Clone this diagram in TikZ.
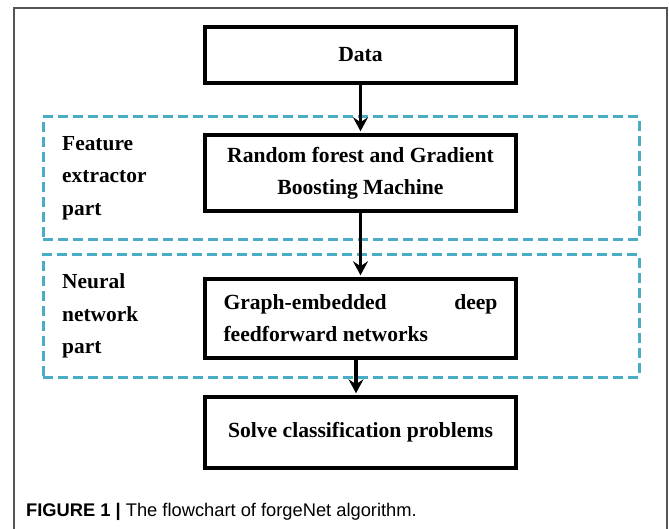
\documentclass[tikz,border=0pt]{standalone}
\usepackage{fontspec}
\setmainfont{Liberation Serif}
\newfontfamily\capsans{Liberation Sans}
\usetikzlibrary{arrows.meta}
\definecolor{groupblue}{HTML}{4BACC6}
\definecolor{framegray}{HTML}{555555}

\begin{document}
\begin{tikzpicture}[x=1pt,y=-1pt,
  stepbox/.style={draw=black, line width=3.5pt, minimum width=311pt, inner sep=0pt,
    font=\bfseries\fontsize{21.6}{32}\selectfont},
  groupbox/.style={draw=groupblue, line width=3pt, dash pattern=on 10pt off 5pt,
    minimum width=596pt, inner sep=0pt},
  flow/.style={line width=3.5pt, shorten >=2pt,
    -{Stealth[length=14pt,width=15pt,inset=5pt]}},
  sidelabel/.style={anchor=west, align=left, inner sep=0pt,
    font=\bfseries\fontsize{21.4}{32.5}\selectfont}]

\useasboundingbox (0,0) rectangle (669,529);

% page frame, open at the bottom
\draw[framegray, line width=1.3pt] (14,529) -- (14,8) -- (667,8) -- (667,529);

% dashed stage groups
\node[groupbox, minimum height=123pt] (fegroup) at (341,178.5) {};
\node[groupbox, minimum height=122pt] (nngroup) at (341,316) {};

% group labels
\node[sidelabel] (felabel) at (62,178) {Feature\\extractor\\part};
\node[sidelabel] (nnlabel) at (62,316) {Neural\\network\\part};

% flowchart steps
\node[stepbox, minimum height=56pt] (data) at (360.5,55) {Data};
\node[stepbox, minimum height=76pt, align=center] (forest) at (360.5,173)
  {Random forest and Gradient\\Boosting Machine};
\node[stepbox, minimum height=79pt, align=left] (graphnet) at (360.5,318.5)
  {\hbox to 274pt{Graph-embedded\hfill deep}\\feedforward networks};
\node[stepbox, minimum height=71pt] (solve) at (360.5,432.5) {Solve classification problems};

% connectors
\draw[flow] (data.south) -- (forest.north);
\draw[flow] (forest.south) -- (graphnet.north);
\draw[flow] ([xshift=-4.5pt]graphnet.south) -- ([xshift=-4.5pt]solve.north);

% caption
\node[anchor=west, inner sep=0pt, font=\capsans\fontsize{18.3}{22}\selectfont] (caption) at (26,512)
  {\textbf{FIGURE 1 |} The flowchart of forgeNet algorithm.};
\end{tikzpicture}
\end{document}
